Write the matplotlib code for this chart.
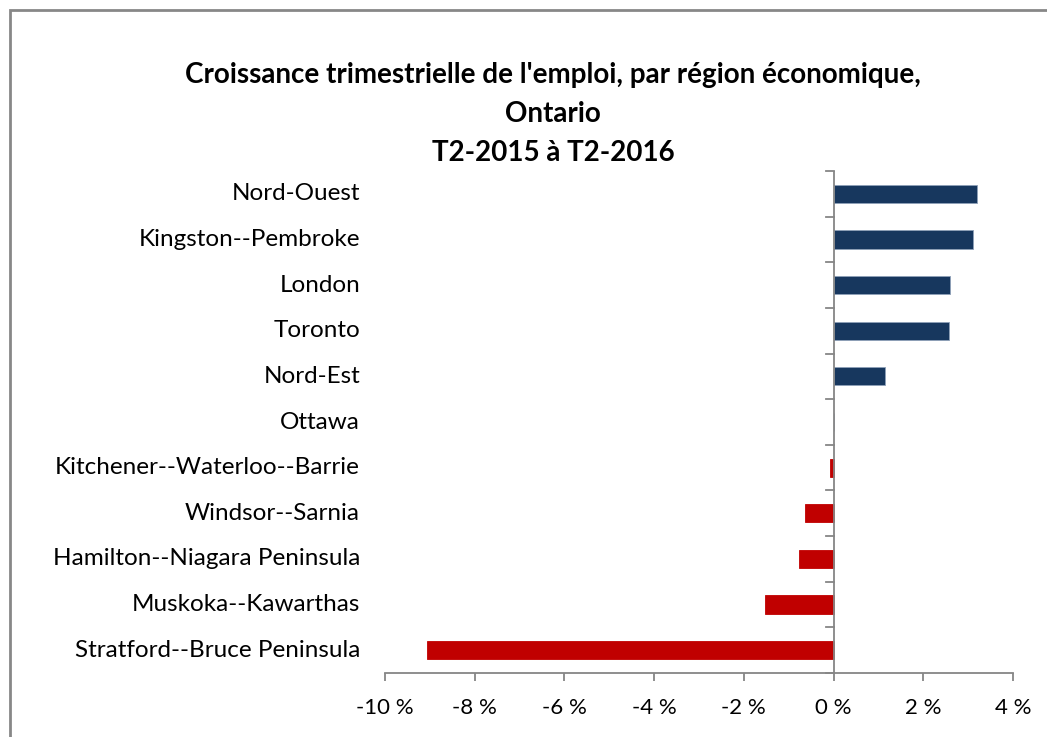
import matplotlib
matplotlib.use("Agg")
import matplotlib.pyplot as plt
from matplotlib.patches import Rectangle

regions = ["Nord-Ouest", "Kingston--Pembroke", "London", "Toronto", "Nord-Est",
           "Ottawa", "Kitchener--Waterloo--Barrie", "Windsor--Sarnia",
           "Hamilton--Niagara Peninsula", "Muskoka--Kawarthas",
           "Stratford--Bruce Peninsula"]
growth = [3.20, 3.11, 2.60, 2.57, 1.14, 0.0, -0.07, -0.64, -0.78, -1.52, -9.07]
xticks = [-10, -8, -6, -4, -2, 0, 2, 4]
xticklabels = ["-10 %", "-8 %", "-6 %", "-4 %", "-2 %", "0 %", "2 %", "4 %"]
title = "Croissance trimestrielle de l'emploi, par région économique,\nOntario\nT2-2015 à T2-2016"

plt.rcParams['font.family'] = ['Lato', 'DejaVu Sans']

W, H = 1047, 737
fig = plt.figure(figsize=(W/100, H/100), dpi=100)
ax = fig.add_axes([385/W, (H-673)/H, (1013-385)/W, (673-171)/H])

n = len(regions)
ypos = list(range(n))
colors = ['#17375E' if v >= 0 else '#C00000' for v in growth]
edges = ['#8EA0B8' if v >= 0 else '#C00000' for v in growth]
ax.barh(ypos, growth, height=0.4, color=colors, edgecolor=edges, linewidth=0.6, zorder=2)
ax.set_ylim(n - 0.5, -0.5)
ax.set_xlim(-10, 4)

ax.set_xticks(xticks)
ax.set_xticklabels(xticklabels, fontsize=16)
ax.set_yticks([])
for sp in ['top', 'right', 'left']:
    ax.spines[sp].set_visible(False)
ax.spines['bottom'].set_color('#868686')
ax.spines['bottom'].set_linewidth(1.3)
ax.tick_params(axis='x', colors='#868686', length=6, width=1.3, labelcolor='black', pad=12)

# vertical axis at zero with boundary ticks
ax.axvline(0, color='#868686', lw=1.3, zorder=3)
tick_len = 8 / (1013 - 385) * 14
for b in range(n + 1):
    y = b - 0.5
    ax.plot([-tick_len, 0], [y, y], color='#868686', lw=1.3, zorder=3, clip_on=False)

# category labels to the left of the plot
label_x = -10 - 25 / (1013 - 385) * 14
for i, name in enumerate(regions):
    ax.text(label_x, i, name, ha='right', va='center', fontsize=17.5, color='black')

fig.text(553/W, (H-114)/H, title, ha='center', va='center', fontsize=20,
         fontweight='bold', linespacing=1.62)

fig.patches.append(Rectangle((10/W, -0.05), 1.2, (H-10)/H + 0.05, transform=fig.transFigure,
                             fill=False, edgecolor='#878787', linewidth=2, figure=fig))

fig.savefig("out.png", dpi=100)
